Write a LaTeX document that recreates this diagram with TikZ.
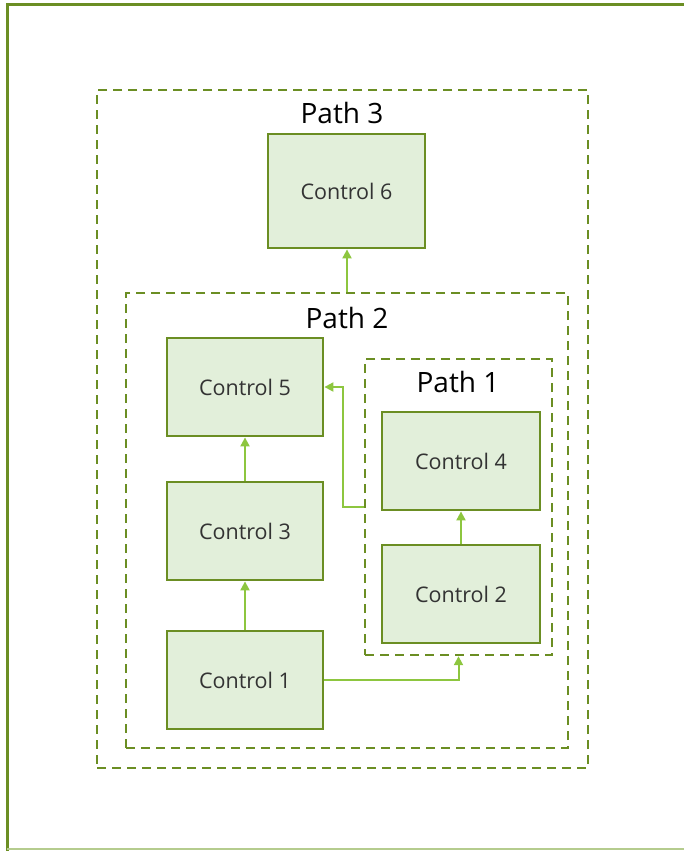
\documentclass[tikz,border=0pt]{standalone}
\usepackage{fontspec}
\setmainfont{Open Sans}
\usetikzlibrary{arrows.meta}
\definecolor{olive}{RGB}{107,142,35}
\definecolor{boxfill}{RGB}{226,239,218}
\definecolor{arrowgreen}{RGB}{141,198,63}
\definecolor{txt}{RGB}{51,51,51}
\definecolor{lightolive}{RGB}{181,204,142}
\tikzset{
  ctrl/.style={draw=olive, line width=2.8pt, fill=boxfill, minimum width=156pt, minimum height=98pt, inner sep=0pt, text=txt, font=\fontsize{21.5}{24}\selectfont},
  pathbox/.style={draw=olive, line width=2.4pt, dash pattern=on 9pt off 6pt, inner sep=0pt},
  pathlabel/.style={font=\fontsize{28}{32}\selectfont, text=black, inner sep=0pt},
  conn/.style={draw=arrowgreen, line width=2pt, -{Triangle[length=9pt,width=9pt]}},
}
\begin{document}
\begin{tikzpicture}[x=1pt,y=-1pt]
\useasboundingbox (0,0) rectangle (684,851);
% outer frame
\draw[olive, line width=3pt] (684,5) -- (7,5) -- (7,851);
\draw[lightolive, line width=1.5pt] (7,849) -- (684,849);
% path boxes
\node[pathbox, minimum width=491pt, minimum height=678pt] (p3) at (342.5,429) {};
\node[pathbox, minimum width=442pt, minimum height=455pt] (p2) at (347,520.5) {};
\node[pathbox, minimum width=187pt, minimum height=296pt] (p1) at (458.5,507) {};
\node[pathlabel] (l3) at (342,113) {Path 3};
\node[pathlabel] (l2) at (347,318) {Path 2};
\node[pathlabel] (l1) at (458,382) {Path 1};
% controls
\node[ctrl, minimum width=157pt, minimum height=114pt] (c6) at (346.5,191) {Control 6};
\node[ctrl] (c5) at (245,387) {Control 5};
\node[ctrl] (c3) at (245,531) {Control 3};
\node[ctrl] (c1) at (245,680) {Control 1};
\node[ctrl, minimum width=158pt] (c4) at (461,461) {Control 4};
\node[ctrl, minimum width=158pt] (c2) at (461,594) {Control 2};
% connectors
\draw[conn] (c1.north) -- (c3.south);
\draw[conn] (c3.north) -- (c5.south);
\draw[conn] (c2.north) -- (c4.south);
\draw[conn] (c1.east) -| (p1.south);
\draw[conn] (p1.west) -- ++(-21,0) |- (c5.east);
\draw[conn] (p2.north) -- (p2.north |- c6.south);
\end{tikzpicture}
\end{document}
